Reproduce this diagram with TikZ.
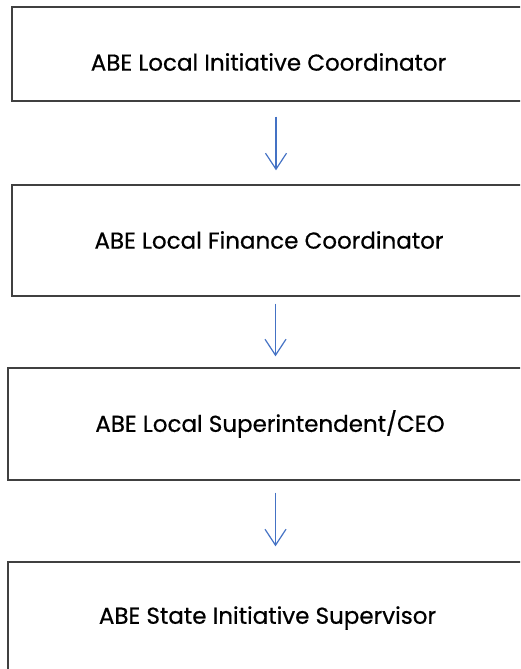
\documentclass[tikz,border=0pt]{standalone}
\usepackage{fontspec}
\setmainfont{Poppins}
\newfontfamily\boxfont{Poppins}[FakeBold=0.6]
\usetikzlibrary{arrows.meta}
\definecolor{arrowblue}{RGB}{68,114,196}
\definecolor{boxgray}{RGB}{64,64,64}

\begin{document}
\begin{tikzpicture}[x=1pt, y=-1pt,
  box/.style={draw=boxgray, line width=1.4pt, inner sep=0pt, minimum width=516pt},
  title/.style={font=\boxfont\fontsize{23}{26}\selectfont},
  flow/.style={draw=arrowblue, line width=1.2pt, -{Straight Barb[length=16pt, width=21pt]}}]
  \clip (0, 0) rectangle (520, 669);

  \node[box, minimum height=94pt] (B1) at (270, 54) {};
  \node[box, minimum height=111pt] (B2) at (270, 240.5) {};
  \node[box, minimum width=524pt, minimum height=112pt] (B3) at (270, 424) {};
  \node[box, minimum width=524pt, minimum height=112pt] (B4) at (270, 618) {};

  % box texts
  \node[title] (T1) at (268.5, 62) {ABE Local Initiative Coordinator};
  \node[title] (T2) at (269, 240) {ABE Local Finance Coordinator};
  \node[title] (T3) at (270, 424) {ABE Local Superintendent/CEO};
  \node[title] (T4) at (267.5, 618) {ABE State Initiative Supervisor};

  \draw[flow, shorten <=15pt, shorten >=14pt] ([xshift=6pt]B1.south) -- ([xshift=6pt]B2.north);
  \draw[flow, shorten <=7pt, shorten >=11pt] ([xshift=5.5pt]B2.south) -- ([xshift=5.5pt]B3.north);
  \draw[flow, shorten <=12pt, shorten >=15pt] ([xshift=5.5pt]B3.south) -- ([xshift=5.5pt]B4.north);
\end{tikzpicture}
\end{document}
